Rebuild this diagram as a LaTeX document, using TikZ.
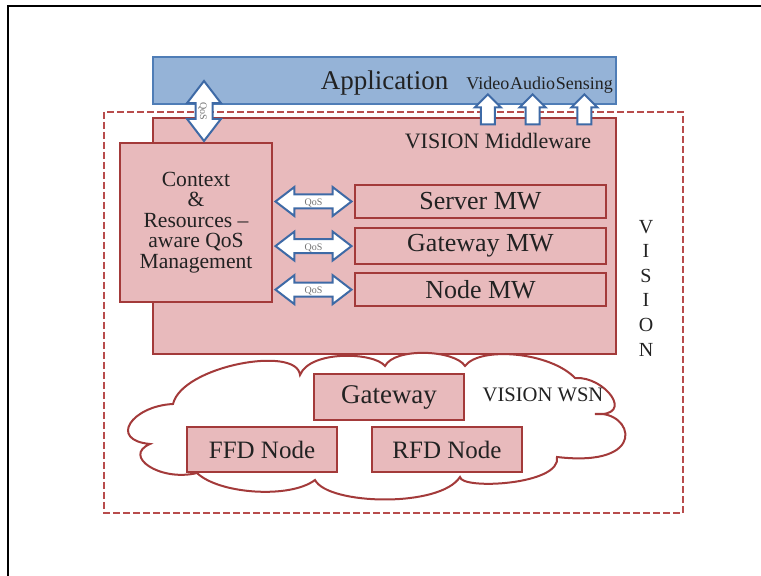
\documentclass[tikz,border=0pt]{standalone}
\usepackage{fontspec}
\setmainfont{Liberation Serif}
\usetikzlibrary{shapes,positioning,calc}
\definecolor{appfill}{RGB}{149,179,215}
\definecolor{appline}{RGB}{79,125,182}
\definecolor{mwfill}{RGB}{232,186,188}
\definecolor{mwline}{RGB}{163,58,58}
\definecolor{dashline}{RGB}{184,76,76}
\definecolor{arrline}{RGB}{62,106,166}
\definecolor{textdark}{RGB}{34,34,34}
\tikzset{
 every node/.style={text=textdark},
 mwbox/.style={draw=mwline,fill=mwfill,line width=1pt},
 dashbox/.style={draw=dashline,line width=1.2pt,dash pattern=on 3.5pt off 1.5pt},
 qosarrow/.style={double arrow,draw=arrline,fill=white,line width=1pt,double arrow head extend=3.75pt,double arrow tip angle=75,minimum height=38pt,minimum width=13.5pt,inner xsep=0pt,inner ysep=1pt,text height=4pt,text depth=0pt,font=\fontsize{5}{5}\selectfont,text=black!55},
 uparrow/.style={single arrow,draw=arrline,fill=white,line width=1pt,rotate=90,single arrow head extend=3pt,minimum height=15pt,minimum width=12pt,inner sep=3pt,anchor=tip},
 wordlbl/.style={inner sep=0pt,font=\fontsize{9}{10}\selectfont}
}
\begin{document}
\begin{tikzpicture}[x=0.5pt,y=-0.5pt]
 \useasboundingbox (0,0) rectangle (761,576);
 \draw[line width=1pt] (761,6) -- (8,6) -- (8,576);
 \draw[dashbox] (104,112) rectangle (683,513);
 \node[mwbox,minimum width=231.5pt,minimum height=118pt](mw) at (384.5,236){};
 \node[draw=appline,fill=appfill,line width=1pt,minimum width=231.5pt,minimum height=23.5pt,text depth=0pt,font=\fontsize{13.5}{16}\selectfont](app) at (384.5,80.5){Application};
 \node[wordlbl,anchor=base west](vid) at (466,90){Video};
 \node[wordlbl,anchor=base west](aud) at (vid.base east){Audio};
 \node[wordlbl,anchor=base west](sen) at (aud.base east){Sensing};
 \node[uparrow](vidarr) at ($(vid.base)+(0,3)$){};
 \node[uparrow](audarr) at ($(aud.base)+(0,3)$){};
 \node[uparrow](senarr) at ($(sen.base)+(0,3)$){};
 \node[font=\fontsize{11}{12}\selectfont](mwlbl) at (498,141){VISION Middleware};
 \node[mwbox,minimum width=76pt,minimum height=79.5pt,align=center,font=\fontsize{10.8}{10.3}\selectfont](ctx) at (196,222.5){Context\\\&\\Resources --\\aware QoS\\Management};
 \node[mwbox,minimum width=125.5pt,minimum height=16.5pt,font=\fontsize{13}{14}\selectfont](srv) at (480.5,201.5){Server MW};
 \node[mwbox,minimum width=125.5pt,minimum height=16.5pt,font=\fontsize{13}{14}\selectfont,below=4pt of srv](gwmw){Gateway MW};
 \node[mwbox,minimum width=125.5pt,minimum height=16.5pt,font=\fontsize{13}{14}\selectfont,below=3.5pt of gwmw](ndmw){Node MW};
 \node[qosarrow](qsrv) at ($(ctx.east|-srv)!.5!(srv.west)$){QoS};
 \node[qosarrow](qgw) at ($(ctx.east|-gwmw)!.5!(gwmw.west)$){QoS};
 \node[qosarrow](qnd) at ($(ctx.east|-ndmw)!.5!(ndmw.west)$){QoS};
 \node[qosarrow,rotate=-90,minimum height=30pt,minimum width=16pt,double arrow head extend=4.25pt,inner ysep=1.75pt](qapp) at ($(ctx.north)+(8,-31)$){QoS};
 \node[font=\fontsize{10}{12.3}\selectfont,align=center](vis) at (646,288){V\\I\\S\\I\\O\\N};
 \draw[draw=mwline,fill=white,line width=1pt] (173,404)
  .. controls (182,366) and (297,345) .. (300,375)
  .. controls (310,350) and (374,352) .. (385,366)
  .. controls (395,347) and (455,350) .. (465,366)
  .. controls (480,346) and (550,352) .. (575,378)
  .. controls (605,376) and (636,417) .. (595,414)
  .. controls (633,410) and (650,468) .. (557,457)
  .. controls (562,485) and (461,490) .. (460,477)
  .. controls (440,508) and (328,505) .. (315,480)
  .. controls (290,499) and (219,494) .. (197,473)
  .. controls (160,482) and (122,456) .. (150,444)
  .. controls (108,440) and (132,406) .. cycle;
 \node[mwbox,minimum width=75pt,minimum height=23pt,font=\fontsize{13.5}{15}\selectfont](gate) at (389,397){Gateway};
 \node[font=\fontsize{10.3}{12}\selectfont](wsnlbl) at (543,395){VISION WSN};
 \node[mwbox,minimum width=75pt,minimum height=22.5pt,font=\fontsize{12.5}{14}\selectfont](ffd) at (262,449.5){FFD Node};
 \node[mwbox,minimum width=75pt,minimum height=22.5pt,font=\fontsize{12.5}{14}\selectfont](rfd) at (447,449.5){RFD Node};
\end{tikzpicture}
\end{document}
